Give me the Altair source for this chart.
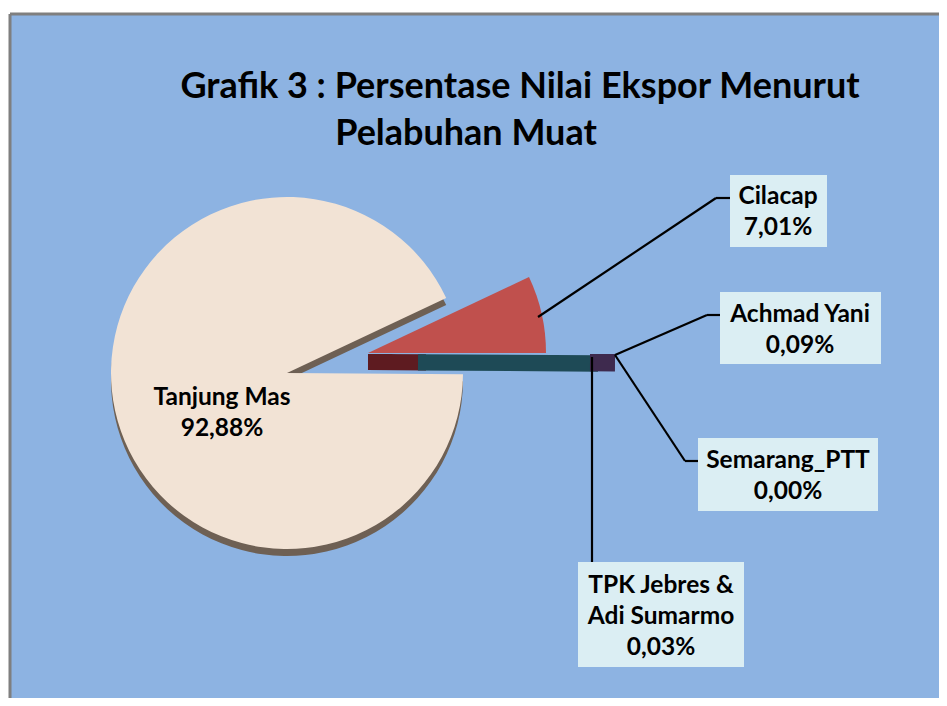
import math
import altair as alt
import pandas as pd

# ---------------- data ----------------
ports = ["Cilacap", "Achmad Yani", "Semarang_PTT", "TPK Jebres & Adi Sumarmo", "Tanjung Mas"]
pct = [7.01, 0.09, 0.00, 0.03, 92.88]
pct_text = ["7,01%", "0,09%", "0,00%", "0,03%", "92,88%"]
label_names = ["Cilacap", "Achmad Yani", "Semarang_PTT", "TPK Jebres &\nAdi Sumarmo", "Tanjung Mas"]
title_lines = ["Grafik 3 : Persentase Nilai Ekspor Menurut", "Pelabuhan Muat"]

# ---------------- layout (page pixel coords) ----------------
OX, OY = 10, 14          # plot origin on page
W, H = 929, 684
FONT = "Lato"

def px(x):
    return x - OX

def py(y):
    return y - OY

total = sum(pct)
t0, t1 = [], []
acc = 0.0
for v in pct:
    t0.append(acc)
    acc += v
    t1.append(acc)
df = pd.DataFrame({"port": ports, "pct": pct, "t0": t0, "t1": t1})

start = math.pi / 2 - 2 * math.pi * pct[0] / total
theta_scale = alt.Scale(domain=[0, total], range=[start, start + 2 * math.pi])


def arc(names, cx, cy, r, r2, color, stroke=None, sw=0):
    kw = dict(color=color, radius=r, radius2=r2)
    if stroke:
        kw.update(stroke=stroke, strokeWidth=sw, strokeJoin="miter")
    return (
        alt.Chart(df)
        .transform_filter(alt.FieldOneOfPredicate(field="port", oneOf=names))
        .mark_arc(**kw)
        .encode(
            theta=alt.Theta("t0:Q", scale=theta_scale),
            theta2="t1:Q",
            x=alt.value(px(cx)),
            y=alt.value(py(cy)),
        )
    )


MAIN = (287, 373)
R_MAIN = 176
CIL = (368, 353)
R_CIL = 178
BAR = (368, 362)

shadow = arc(["Tanjung Mas"], MAIN[0], MAIN[1] + 7, R_MAIN, 0, "#6E6054")
tanjung = arc(["Tanjung Mas"], MAIN[0], MAIN[1], R_MAIN, 0, "#F2E3D5")
cil = arc(["Cilacap"], CIL[0], CIL[1], R_CIL, 0, "#C0504D")
cil_side = arc(["TPK Jebres & Adi Sumarmo"], BAR[0], BAR[1], 50, 8, "#5E1B20", "#5E1B20", 16)
tpk_bar = arc(["TPK Jebres & Adi Sumarmo"], BAR[0], BAR[1], 222, 58, "#1E4A56", "#1E4A56", 16)
ay_bar = arc(["Achmad Yani"], BAR[0], BAR[1], 239, 230, "#3E2A4E", "#3E2A4E", 16)

# leader lines (page coords)
seg = pd.DataFrame({
    "x": [538, 716, 615, 707, 615, 685, 592],
    "y": [317, 198, 355, 315, 355, 461, 357],
    "x2": [716, 730, 707, 720, 685, 698, 592],
    "y2": [198, 198, 315, 315, 461, 461, 562],
})
seg[["x", "x2"]] = seg[["x", "x2"]] - OX
seg[["y", "y2"]] = seg[["y", "y2"]] - OY
leaders = alt.Chart(seg).mark_rule(color="black", strokeWidth=2.2).encode(
    x=alt.X("x:Q", scale=None), y=alt.Y("y:Q", scale=None),
    x2="x2:Q", y2="y2:Q",
)

# chart frame (left and top edges only are visible in the reference)
frame_df = pd.DataFrame({"x": [0, 0], "y": [0, 0], "x2": [0, W], "y2": [H, 0]})
frame = alt.Chart(frame_df).mark_rule(color="#7F7F7F", strokeWidth=3).encode(
    x=alt.X("x:Q", scale=None), y=alt.Y("y:Q", scale=None),
    x2="x2:Q", y2="y2:Q",
)

# label boxes
boxes_df = pd.DataFrame({
    "x": [730, 720, 698, 578],
    "y": [175, 292, 438, 562],
    "x2": [827, 881, 878, 744],
    "y2": [247, 364, 511, 667],
})
boxes_df[["x", "x2"]] = boxes_df[["x", "x2"]] - OX
boxes_df[["y", "y2"]] = boxes_df[["y", "y2"]] - OY
boxes = alt.Chart(boxes_df).mark_rect(color="#DBEEF3").encode(
    x=alt.X("x:Q", scale=None), y=alt.Y("y:Q", scale=None),
    x2="x2:Q", y2="y2:Q",
)

lab_df = pd.DataFrame({
    "text": [f"{n}\n{p}" for n, p in zip(label_names, pct_text)],
    "x": [778, 800, 788, 661, 222],
    "y": [204, 322, 468, 593, 405],
})
lab_df["x"] = lab_df["x"] - OX
lab_df["y"] = lab_df["y"] - OY
labels = alt.Chart(lab_df).mark_text(
    font=FONT, fontWeight="bold", fontSize=24.5, lineBreak="\n", lineHeight=31,
    align="center", baseline="alphabetic", color="black",
).encode(x=alt.X("x:Q", scale=None), y=alt.Y("y:Q", scale=None), text="text:N")

title_df = pd.DataFrame({"text": title_lines, "x": [520 - OX, 466 - OX], "y": [98 - OY, 145 - OY]})
title = alt.Chart(title_df).mark_text(
    font=FONT, fontWeight="bold", fontSize=36, align="center", baseline="alphabetic", color="black",
).encode(x=alt.X("x:Q", scale=None), y=alt.Y("y:Q", scale=None), text="text:N")

chart = (
    alt.layer(shadow, tanjung, cil, cil_side, tpk_bar, ay_bar, leaders, boxes, labels, title, frame)
    .properties(width=W, height=H, background="white",
                padding={"left": 2, "top": 6, "right": 0, "bottom": 0},
                autosize=alt.AutoSizeParams(type="none"))
    .configure_view(fill="#8DB3E2", strokeWidth=0)
)

chart.save("out.html", embed_options={"renderer": "svg", "actions": False})
